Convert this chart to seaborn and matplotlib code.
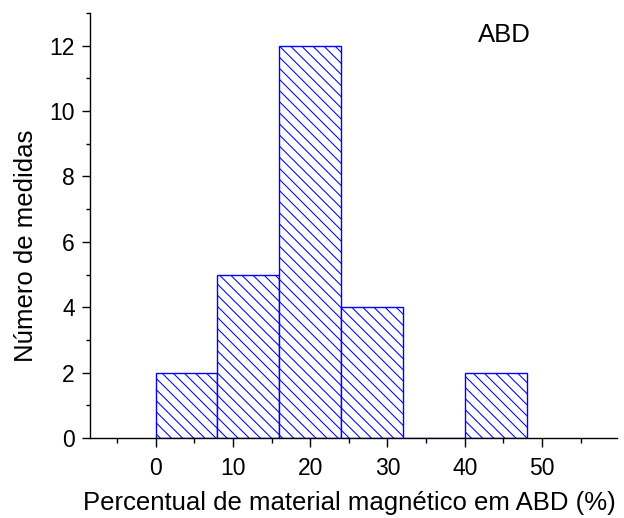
import matplotlib
matplotlib.use("Agg")
import matplotlib.pyplot as plt
import seaborn as sns
import numpy as np
from matplotlib.ticker import MultipleLocator

bin_edges = [0, 8, 16, 24, 32, 40, 48]
bin_lefts = [0, 8, 16, 24, 32, 40]
counts = [2, 5, 12, 4, 0, 2]
x_ticks = [0, 10, 20, 30, 40, 50]
y_ticks = [0, 2, 4, 6, 8, 10, 12]

sns.set_theme(style="ticks")
plt.rcParams['font.family'] = ['Liberation Sans', 'DejaVu Sans']
plt.rcParams['hatch.linewidth'] = 0.75
plt.rcParams['text.color'] = 'black'
plt.rcParams['axes.labelcolor'] = 'black'
plt.rcParams['xtick.color'] = 'black'
plt.rcParams['ytick.color'] = 'black'

fig = plt.figure(figsize=(6.24, 5.18), dpi=100)
ax = fig.add_axes([0.1442, 0.1544, 0.8446, 0.8205])

centers = [l + 4 for l in bin_lefts]
hatch = '\\\\\\'
sns.histplot(x=centers, weights=counts, bins=bin_edges, ax=ax,
             color='none', edgecolor='#0000ff', linewidth=1.0,
             fill=True, hatch=hatch)
for p in ax.patches:
    p.set_facecolor('white')
    p.set_edgecolor('#0000ff')
    p.set_hatch(hatch)

ax.set_xlim(-8.5, 59.7)
ax.set_ylim(0, 13)
ax.set_xticks(x_ticks)
ax.set_yticks(y_ticks)
ax.xaxis.set_minor_locator(MultipleLocator(5))
ax.yaxis.set_minor_locator(MultipleLocator(1))
ax.tick_params(axis='x', which='major', direction='out', length=6.5, width=1, labelsize=16.5, colors='black', pad=7)
ax.tick_params(axis='x', which='minor', direction='out', length=3.5, width=1)
ax.tick_params(axis='y', which='major', direction='out', length=6, width=1, labelsize=16.5, colors='black', pad=5)
ax.tick_params(axis='y', which='minor', direction='out', length=3, width=1)
for s in ['top', 'right']:
    ax.spines[s].set_visible(False)
for s in ['left', 'bottom']:
    ax.spines[s].set_color('black')
    ax.spines[s].set_linewidth(1)

ax.set_xlabel('Percentual de material magnético em ABD (%)', fontsize=18.5, color='black')
ax.set_ylabel('Número de medidas', fontsize=18.5, color='black')
ax.xaxis.set_label_coords(0.493, -0.125)
ax.yaxis.set_label_coords(-0.099, 0.452)
ax.text(0.736, 0.948, 'ABD', transform=ax.transAxes, fontsize=18.5, va='center', ha='left', color='black')

fig.savefig('out.png', dpi=100)
